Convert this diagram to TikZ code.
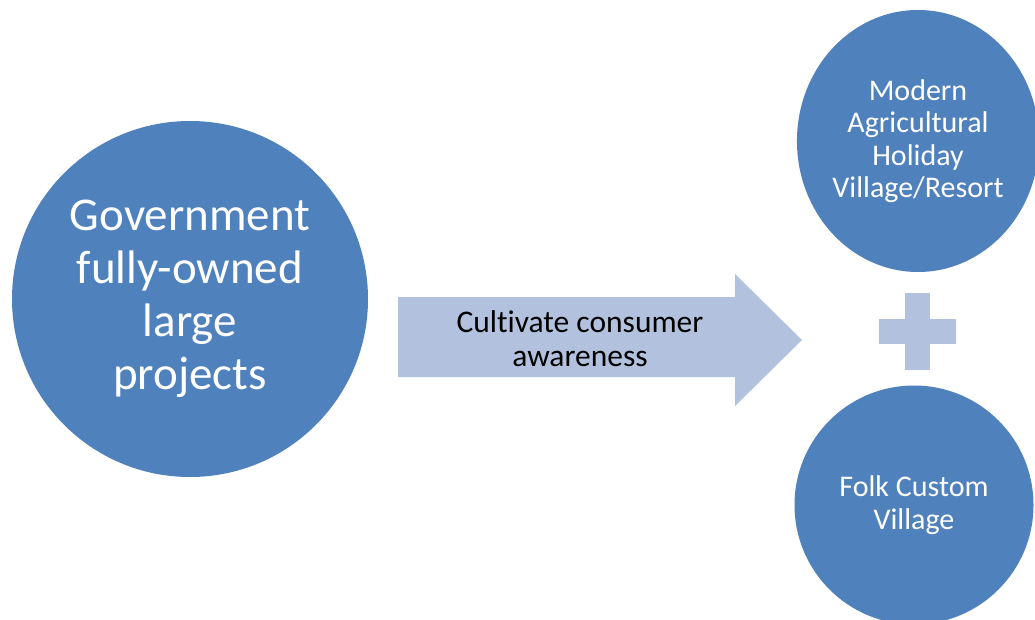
\documentclass[tikz,border=0pt]{standalone}
\usepackage{fontspec}
\setmainfont{Carlito}[Ligatures=NoCommon]
\usetikzlibrary{shapes.geometric}
\definecolor{circblue}{HTML}{4F81BD}
\definecolor{lightblue}{HTML}{B2C2DE}
\tikzset{
  bubble/.style={fill=circblue, draw=none, text=white, align=center, inner sep=0pt},
  bigtext/.style={font=\fontsize{47}{53}\selectfont},
  smalltext/.style={font=\fontsize{30}{32.5}\selectfont},
}
\begin{document}
\begin{tikzpicture}[x=1pt,y=-1pt]
  \clip (0,0) rectangle (1035,620);
  \fill[white] (0,0) rectangle (1035,620);
  %% big circle
  \node[bubble, bigtext, circle, minimum size=356pt] (gov) at (190,299) {Government\\fully-owned\\large\\projects};
  %% arrow
  \fill[lightblue] (398,297) -- (735,297) -- (735,274) -- (802,340) -- (735,406) -- (735,377) -- (398,377) -- cycle;
  \node[align=center, font=\fontsize{31.5}{34}\selectfont] (aware) at (580,339) {Cultivate consumer\\awareness};
  %% right side
  \node[bubble, smalltext, ellipse, minimum width=242pt, minimum height=262pt] (resort) at (918,141) {Modern\\Agricultural\\Holiday\\Village/Resort};
  \node[bubble, smalltext, circle, minimum size=239pt] (folk) at (914,505) {Folk Custom\\Village};
  %% plus
  \fill[lightblue] (879,319) rectangle (956,344);
  \fill[lightblue] (905,293) rectangle (930,370);
\end{tikzpicture}
\end{document}
